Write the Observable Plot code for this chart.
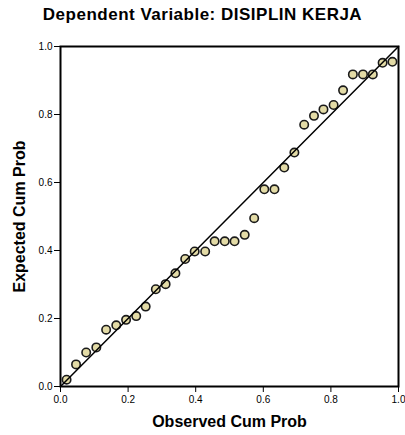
<!DOCTYPE html>
<html><head><meta charset="utf-8">
<script src="https://cdn.jsdelivr.net/npm/d3@7"></script>
<script src="https://cdn.jsdelivr.net/npm/@observablehq/plot@0.6"></script>
<style>
body{margin:0;background:#fff;font-family:Arial,"Liberation Sans",sans-serif;}
#title{height:30px;position:relative;}
#title div{position:absolute;left:0;width:405px;text-align:center;top:5px;line-height:20px;font-weight:bold;font-size:17px;letter-spacing:0.5px;color:#000;}
</style></head><body>
<div id="title"><div>Dependent Variable: DISIPLIN KERJA</div></div>
<div id="chart"></div>
<script>
const observed = [0.018,0.046,0.076,0.106,0.135,0.165,0.194,0.224,0.252,0.282,0.311,0.340,0.369,0.397,0.428,0.456,0.486,0.515,0.545,0.573,0.603,0.633,0.662,0.692,0.721,0.750,0.778,0.808,0.836,0.865,0.895,0.924,0.953,0.982];
const expected = [0.020,0.065,0.100,0.115,0.167,0.180,0.196,0.207,0.235,0.286,0.301,0.333,0.375,0.397,0.397,0.427,0.427,0.427,0.446,0.495,0.580,0.580,0.644,0.688,0.770,0.796,0.815,0.828,0.871,0.918,0.918,0.918,0.952,0.955];
const tickValues = [0,0.2,0.4,0.6,0.8,1.0];
const diagonal = [0,1];
const points = observed.map((o,i)=>({o, e: expected[i]}));

const chart = Plot.plot({
  width:405, height:405,
  marginTop:16, marginBottom:49, marginLeft:60, marginRight:7,
  style:{fontFamily:"Arial, 'Liberation Sans', sans-serif", fontSize:"10px", color:"#000", background:"#fff"},
  x:{domain:[0,1]},
  y:{domain:[0,1]},
  marks:[
    Plot.dot(points,{x:"o",y:"e",r:4.2,fill:"#e3dba6",stroke:"#1a1a1a",strokeWidth:1.6}),
    Plot.line(diagonal,{x:d=>d,y:d=>d,stroke:"#000",strokeWidth:1.5}),
    Plot.frame({stroke:"#000",strokeWidth:2}),
    Plot.axisX({ticks:tickValues,tickFormat:d3.format(".1f"),tickSize:6,tickPadding:3,tickWidth:2,label:null,fontSize:10}),
    Plot.axisY({ticks:tickValues,tickFormat:d3.format(".1f"),tickSize:6,tickPadding:2,label:null,fontSize:10}),
    Plot.text(["Observed Cum Prob"],{frameAnchor:"bottom",dy:40,fontWeight:"bold",fontSize:16,text:d=>d}),
    Plot.text(["Expected Cum Prob"],{frameAnchor:"left",dx:-41,rotate:-90,textAnchor:"middle",lineAnchor:"middle",fontWeight:"bold",fontSize:16,text:d=>d})
  ]
});
document.getElementById("chart").appendChild(chart);
</script>
</body></html>
